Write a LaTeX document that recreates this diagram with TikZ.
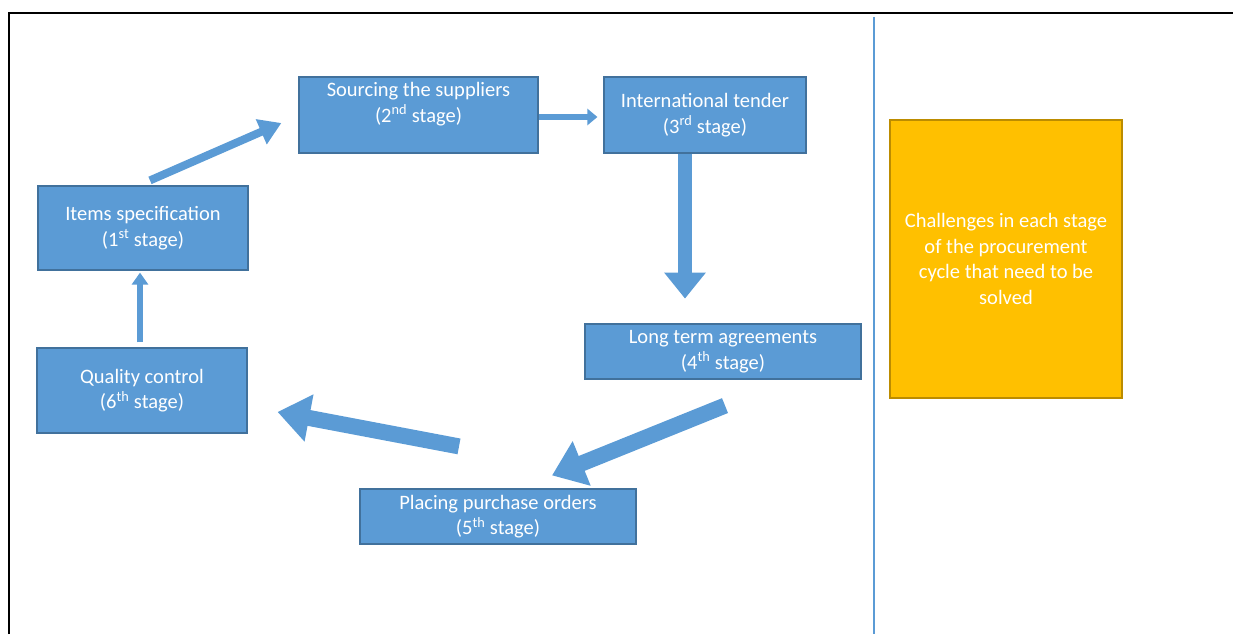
\documentclass[tikz,border=0pt]{standalone}
\usepackage{fontspec}
\setmainfont{Carlito}
\usetikzlibrary{arrows.meta}
\definecolor{cycleblue}{HTML}{5B9BD5}
\definecolor{edgeblue}{HTML}{41719C}
\definecolor{amber}{HTML}{FFC000}
\definecolor{edgeamber}{HTML}{BC8C00}
\begin{document}
\begin{tikzpicture}[x=1pt,y=-1pt,font=\fontsize{20.5}{25.5}\selectfont,
  stage/.style={draw=edgeblue,fill=cycleblue,text=white,align=center,inner sep=0pt,line width=1.2pt},
  flow/.style n args={3}{cycleblue,line width=#1,-{Triangle[length=#2,width=#3]}}]
  \useasboundingbox (0,0) rectangle (1233,634);
  \draw[line width=2pt] (9,634) -- (9,13) -- (1233,13);
  \draw[cycleblue,line width=1.2pt] (874,17) -- (874,634);
  % stages of the cycle
  \node[stage,minimum width=210,minimum height=84] (spec) at (143,228) {Items specification\\(1\textsuperscript{st} stage)};
  \node[stage,minimum width=239,minimum height=76] (src) at (418.5,115) {};
  \node[text=white,align=center,anchor=north,inner sep=0pt] at ([yshift=-6]src.north) {Sourcing the suppliers\\(2\textsuperscript{nd} stage)};
  \node[stage,minimum width=202,minimum height=76] (tender) at (705,115) {International tender\\(3\textsuperscript{rd} stage)};
  \node[stage,minimum width=276,minimum height=55] (agree) at (723,351.5) {Long term agreements\\(4\textsuperscript{th} stage)};
  \node[stage,minimum width=276,minimum height=55] (orders) at (498,516.5) {Placing purchase orders\\(5\textsuperscript{th} stage)};
  \node[stage,minimum width=210,minimum height=85] (quality) at (142,390.5) {Quality control\\(6\textsuperscript{th} stage)};
  \node[draw=edgeamber,fill=amber,text=white,align=center,inner sep=0pt,line width=1.2pt,
    minimum width=232,minimum height=278] (issues) at (1006,259)
    {Challenges in each stage\\of the procurement\\cycle that need to be\\solved};
  % arrows
  \draw[flow={8}{22pt}{26pt}] ([xshift=7,yshift=5]spec.north) -- ([xshift=-17,yshift=-8]src.west);
  \draw[flow={6}{10pt}{16pt}] ([yshift=-2]src.east) -- ([xshift=-6,yshift=-2]tender.west);
  \draw[flow={14}{26pt}{40pt}] ([xshift=-20]tender.south) -- +(0,145);
  \draw[flow={16}{32pt}{46pt}] ([xshift=2,yshift=-26]agree.south) -- ([xshift=54,yshift=13]orders.north);
  \draw[flow={16}{32pt}{46pt}] ([xshift=-39,yshift=42]orders.north) -- ([xshift=30,yshift=-21.5]quality.east);
  \draw[flow={6}{12pt}{16pt}] ([xshift=-2,yshift=5]quality.north) -- ([xshift=-3,yshift=-2]spec.south);
\end{tikzpicture}
\end{document}
